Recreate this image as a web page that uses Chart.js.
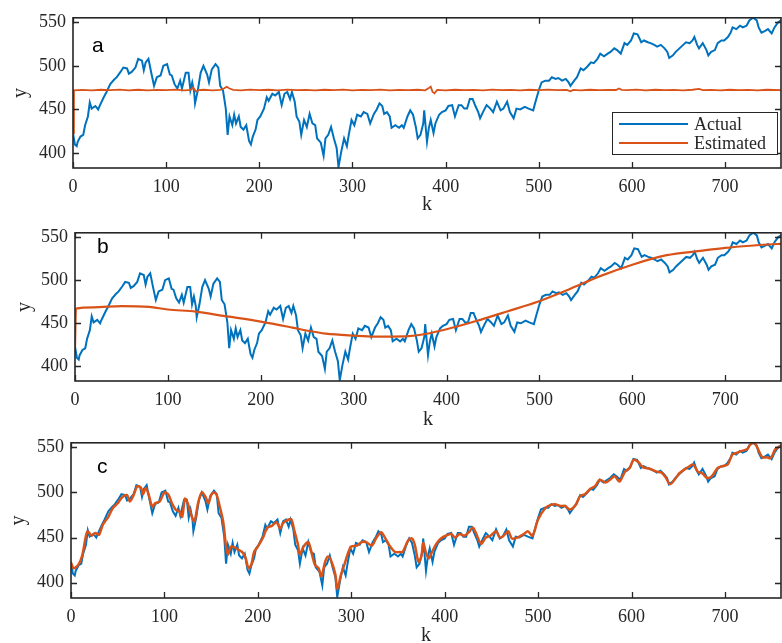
<!DOCTYPE html>
<html>
<head>
<meta charset="utf-8">
<script src="https://cdn.jsdelivr.net/npm/chart.js@4.4.1/dist/chart.umd.min.js"></script>
<style>
  html, body { margin: 0; padding: 0; background: #fff; }
  #wrap { position: relative; width: 782px; height: 643px; overflow: hidden; }
  canvas { position: absolute; left: 0; }
</style>
</head>
<body>
<div id="wrap">
  <canvas id="panelA" width="782" height="215" style="top:0px"></canvas>
  <canvas id="panelB" width="782" height="210" style="top:215px"></canvas>
  <canvas id="panelC" width="782" height="218" style="top:425px"></canvas>
</div>
<script>
// ---- data ----
const xTicks = [0, 100, 200, 300, 400, 500, 600, 700];
const yTicks = [400, 450, 500, 550];

// actual series (same in all three panels)
const kActual = [
  0, 2, 4, 5, 8, 11, 13, 16, 18, 20,
  24, 27, 29, 33, 36, 40, 44, 47, 51, 54,
  58, 60, 63, 67, 70, 74, 76, 78, 81, 84,
  87, 90, 94, 97, 101, 104, 106, 109, 112, 115,
  117, 121, 124, 126, 128, 130, 131, 134, 137, 140,
  144, 146, 149, 153, 156, 158, 161, 164, 166, 168,
  171, 173, 175, 178, 180, 183, 186, 189, 191, 193,
  196, 198, 201, 205, 208, 210, 214, 217, 221, 224,
  227, 230, 233, 235, 238, 240, 243, 245, 248, 251,
  254, 257, 260, 262, 266, 269, 271, 274, 277, 280,
  283, 285, 288, 291, 294, 296, 299, 302, 305, 309,
  312, 316, 319, 323, 326, 329, 332, 334, 337, 340,
  342, 346, 350, 353, 355, 359, 362, 365, 368, 370,
  373, 376, 377, 380, 382, 384, 387, 389, 393, 396,
  400, 403, 407, 410, 414, 417, 420, 423, 426, 429,
  432, 435, 437, 441, 444, 448, 451, 455, 459, 462,
  466, 469, 473, 476, 480, 485, 489, 494, 496, 500,
  503, 507, 511, 514, 518, 521, 525, 529, 532, 534,
  538, 541, 545, 548, 552, 556, 559, 563, 566, 570,
  574, 577, 581, 584, 588, 592, 595, 599, 602, 606,
  610, 613, 617, 620, 624, 627, 631, 635, 638, 640,
  644, 647, 651, 655, 658, 662, 665, 667, 670, 672,
  676, 680, 682, 685, 689, 692, 696, 699, 703, 706,
  708, 712, 716, 719, 723, 726, 730, 734, 736, 739,
  743, 746, 750, 753, 757, 760
];
const yActual = [
  423, 410, 408, 413, 419, 421, 432, 442, 458, 451,
  454, 450, 455, 464, 470, 479, 484, 487, 493, 498,
  497, 491, 493, 498, 508, 506, 495, 504, 508, 492,
  477, 487, 489, 500, 502, 490, 489, 479, 474, 483,
  474, 492, 492, 472, 481, 470, 457, 472, 492, 500,
  490, 481, 496, 502, 498, 477, 472, 451, 421, 442,
  432, 444, 434, 442, 430, 427, 432, 414, 410, 419,
  427, 438, 442, 451, 464, 460, 468, 466, 470, 455,
  468, 470, 462, 470, 459, 442, 436, 421, 438, 430,
  445, 434, 432, 417, 412, 397, 417, 421, 430, 417,
  406, 384, 402, 417, 408, 421, 438, 432, 444, 442,
  447, 445, 434, 445, 450, 457, 454, 445, 447, 442,
  429, 432, 429, 432, 429, 442, 449, 444, 430, 417,
  421, 434, 449, 413, 429, 438, 423, 434, 444, 447,
  449, 454, 455, 442, 455, 455, 451, 451, 462, 462,
  454, 447, 440, 449, 455, 451, 447, 459, 449, 451,
  459, 447, 440, 451, 450, 453, 451, 449, 457, 472,
  481, 483, 483, 487, 485, 486, 483, 485, 481, 477,
  483, 487, 497, 495, 499, 504, 503, 508, 514, 511,
  514, 516, 520, 518, 514, 526, 524, 529, 537, 536,
  527, 529, 527, 526, 524, 522, 524, 520, 516, 509,
  512, 516, 520, 524, 527, 526, 529, 533, 524, 520,
  526, 518, 512, 516, 518, 526, 529, 529, 533, 538,
  544, 542, 546, 544, 546, 552, 555, 552, 544, 538,
  540, 542, 537, 544, 550, 552
];

// panel a: estimate stays flat
const kEstA = [
  0, 1, 10, 20, 30, 40, 50, 60, 70, 80,
  90, 100, 110, 120, 126, 129, 132, 135, 140, 150,
  158, 162, 165, 168, 172, 180, 190, 200, 210, 220,
  230, 240, 250, 260, 270, 280, 290, 300, 310, 320,
  330, 340, 350, 360, 370, 378, 382, 384, 386, 388,
  391, 400, 410, 420, 430, 440, 450, 460, 470, 480,
  490, 500, 510, 520, 530, 534, 537, 545, 555, 565,
  575, 583, 586, 589, 595, 605, 615, 625, 635, 645,
  655, 665, 672, 676, 685, 695, 705, 715, 725, 735,
  745, 760
];
const yEstA = [
  423, 472, 472.5, 471.8, 472.6, 472.2, 472.8, 472, 472.6, 471.9,
  472.5, 472.2, 472.7, 472, 472.5, 475, 470.5, 472.3, 472.6, 472,
  472.5, 474, 476, 474, 472.4, 472, 472.7, 472.1, 472.6, 472,
  472.7, 472.2, 472.5, 471.9, 472.6, 472.1, 472.7, 472, 472.5, 472.2,
  472.8, 472, 472.5, 472.1, 472.6, 472, 474.5, 476, 470, 468.5,
  472.4, 472, 472.6, 472.1, 472.5, 472, 472.7, 472.2, 472.5, 471.9,
  472.6, 472.1, 472.7, 472.2, 472.5, 470.8, 472.4, 472, 472.6, 472.2,
  472.5, 472.3, 474, 472.5, 472.1, 472.7, 472, 472.6, 472.1, 472.5,
  472, 472.6, 473.5, 472.2, 472.5, 472, 472.6, 472.1, 472.5, 472,
  472.6, 472.2
];

// panel b: slow smooth estimate
const kEstB = [0, 1, 20, 50, 80, 100, 130, 160, 200, 234, 252, 270, 300, 323, 341,
  359, 377, 400, 430, 466, 498, 531, 566, 600, 637, 673, 700, 727, 756, 760];
const yEstB = [423, 467, 468.5, 470, 469, 466, 463.5, 458.5, 452, 445, 441, 438, 435.7, 434.6, 434.6,
  435, 437.5, 443, 452, 464, 475, 489, 505, 518, 529, 534, 537.5, 540, 542, 542.2];

// panel c: estimate tracks the actual series
const kEstC = [
  0, 3, 8, 12, 16, 18, 22, 26, 30, 34,
  40, 45, 50, 55, 60, 63, 67, 71, 75, 77,
  80, 83, 87, 90, 95, 100, 104, 108, 112, 116,
  119, 122, 125, 128, 132, 136, 140, 144, 147, 150,
  153, 156, 160, 163, 166, 168, 171, 175, 180, 184,
  187, 190, 193, 196, 200, 206, 210, 215, 220, 224,
  227, 233, 236, 239, 243, 245, 249, 254, 258, 261,
  265, 268, 272, 275, 279, 283, 285, 289, 292, 297,
  300, 306, 311, 316, 322, 327, 332, 336, 341, 347,
  352, 355, 361, 365, 368, 372, 375, 377, 380, 383,
  386, 391, 396, 401, 407, 411, 416, 421, 426, 430,
  433, 439, 444, 449, 455, 459, 463, 468, 472, 478,
  485, 489, 494, 500, 508, 513, 518, 524, 529, 534,
  540, 545, 550, 556, 561, 566, 572, 577, 582, 587,
  593, 598, 602, 607, 612, 620, 627, 632, 637, 641,
  646, 651, 656, 662, 666, 671, 676, 681, 686, 692,
  697, 703, 708, 713, 718, 724, 727, 731, 734, 740,
  745, 749, 754, 760
];
const yEstC = [
  422, 416, 420, 430, 452, 457, 452, 455, 453, 464,
  473, 483, 488, 495, 497, 490, 497, 507, 505, 498,
  505, 498, 484, 488, 490, 500, 498, 488, 481, 479,
  473, 493, 488, 477, 468, 488, 500, 495, 488, 497,
  500, 497, 481, 467, 440, 431, 440, 439, 436, 433,
  427, 416, 420, 434, 440, 451, 461, 463, 467, 460,
  466, 470, 470, 458, 442, 431, 440, 445, 431, 420,
  416, 407, 423, 429, 423, 409, 393, 409, 418, 434,
  440, 441, 445, 445, 441, 450, 456, 450, 441, 434,
  434, 434, 447, 449, 442, 423, 429, 444, 433, 427,
  433, 443, 449, 452, 454, 450, 454, 452, 456, 461,
  456, 443, 450, 452, 457, 450, 452, 457, 449, 450,
  454, 457, 452, 470, 483, 486, 487, 485, 485, 481,
  486, 496, 498, 504, 507, 514, 511, 514, 518, 512,
  523, 527, 536, 534, 528, 526, 523, 522, 516, 509,
  514, 521, 525, 529, 531, 523, 521, 516, 518, 527,
  529, 531, 542, 544, 546, 548, 553, 555, 551, 539,
  539, 538, 548, 552
];

const BLUE = '#0072BD';
const ORANGE = '#D95319';
const INK = '#262626';
const SERIF = '"Liberation Serif", "Times New Roman", serif';

function pts(ks, ys) {
  return ks.map((k, i) => ({ x: k, y: ys[i] }));
}

// box, inward ticks, axis names, panel letter, legend
const framePlugin = {
  id: 'frame',
  afterDraw(chart, args, o) {
    const { ctx, chartArea: a } = chart;
    const xs = chart.scales.x, ys = chart.scales.y;
    ctx.save();
    ctx.strokeStyle = INK;
    ctx.lineWidth = 1.3;
    ctx.beginPath();
    xTicks.forEach(v => {
      const px = Math.round(xs.getPixelForValue(v)) + 0.5;
      ctx.moveTo(px, a.bottom); ctx.lineTo(px, a.bottom - 6);
      ctx.moveTo(px, a.top); ctx.lineTo(px, a.top + 6);
    });
    yTicks.forEach(v => {
      const py = Math.round(ys.getPixelForValue(v)) + 0.5;
      ctx.moveTo(a.left, py); ctx.lineTo(a.left + 6, py);
      ctx.moveTo(a.right, py); ctx.lineTo(a.right - 6, py);
    });
    ctx.stroke();
    ctx.lineWidth = 1.6;
    ctx.strokeRect(a.left, a.top, a.right - a.left, a.bottom - a.top);

    ctx.fillStyle = INK;
    ctx.font = '20px ' + SERIF;
    ctx.textAlign = 'center';
    ctx.textBaseline = 'middle';
    ctx.fillText('k', (a.left + a.right) / 2, a.bottom + o.kGap);
    ctx.save();
    ctx.translate(o.yX, (a.top + a.bottom) / 2);
    ctx.rotate(-Math.PI / 2);
    ctx.fillText('y', 0, 0);
    ctx.restore();

    ctx.fillStyle = '#000';
    ctx.font = '21px "Liberation Sans", Arial, sans-serif';
    ctx.textAlign = 'left';
    ctx.textBaseline = 'alphabetic';
    ctx.fillText(o.letter, o.letterX, o.letterY);

    if (o.legend) {
      const L = o.legend;
      ctx.fillStyle = '#fff';
      ctx.fillRect(L.x, L.y, L.w, L.h);
      ctx.lineWidth = 1;
      ctx.strokeStyle = INK;
      ctx.strokeRect(L.x + 0.5, L.y + 0.5, L.w, L.h);
      ctx.font = '18px ' + SERIF;
      ctx.textBaseline = 'middle';
      [[BLUE, 'Actual', L.y + 12], [ORANGE, 'Estimated', L.y + 31]].forEach(([c, t, yy]) => {
        ctx.strokeStyle = c;
        ctx.lineWidth = 2;
        ctx.beginPath();
        ctx.moveTo(L.x + 7, yy); ctx.lineTo(L.x + 76, yy);
        ctx.stroke();
        ctx.fillStyle = INK;
        ctx.fillText(t, L.x + 82, yy + 1);
      });
    }
    ctx.restore();
  }
};

function makePanel(id, cfg) {
  const ctx = document.getElementById(id);
  const existing = Chart.getChart(ctx);
  if (existing) existing.destroy();

  new Chart(ctx, {
    type: 'line',
    data: {
      datasets: [
        {
          label: 'Estimated',
          data: pts(cfg.estK, cfg.estY),
          borderColor: ORANGE,
          borderWidth: cfg.estWidth,
          pointRadius: 0,
          tension: cfg.estTension,
          cubicInterpolationMode: cfg.monotone ? 'monotone' : 'default',
          order: 0
        },
        {
          label: 'Actual',
          data: pts(kActual, yActual),
          borderColor: BLUE,
          borderWidth: 2,
          pointRadius: 0,
          tension: 0,
          order: 1
        }
      ]
    },
    options: {
      responsive: false,
      animation: false,
      devicePixelRatio: 1,
      layout: { padding: { top: cfg.top, right: 1, left: 0, bottom: 0 } },
      plugins: { legend: { display: false }, tooltip: { enabled: false }, frame: cfg.frame },
      scales: {
        x: {
          type: 'linear',
          min: 0,
          max: 760,
          grid: { display: false, drawTicks: false },
          border: { display: false },
          afterBuildTicks: s => { s.ticks = xTicks.map(v => ({ value: v })); },
          afterFit: s => { s.height = cfg.bottomH; },
          ticks: { color: INK, padding: 8, maxRotation: 0, font: { family: SERIF, size: 18 } }
        },
        y: {
          min: 383,
          max: 555,
          grid: { display: false, drawTicks: false },
          border: { display: false },
          afterBuildTicks: s => { s.ticks = yTicks.map(v => ({ value: v })); },
          afterFit: s => { s.width = cfg.leftW; },
          ticks: { color: INK, padding: 7, font: { family: SERIF, size: 18 } }
        }
      }
    },
    plugins: [framePlugin]
  });
}

makePanel('panelA', {
  estK: kEstA, estY: yEstA, estWidth: 1.8, estTension: 0,
  top: 15, leftW: 73, bottomH: 47,
  frame: { kGap: 37, yX: 21, letter: 'a', letterX: 92, letterY: 52,
    legend: { x: 612, y: 112, w: 165, h: 42 } }
});
makePanel('panelB', {
  estK: kEstB, estY: yEstB, estWidth: 2.2, estTension: 0.4, monotone: true,
  top: 5, leftW: 75, bottomH: 44,
  frame: { kGap: 39, yX: 25, letter: 'b', letterX: 97, letterY: 38 }
});
makePanel('panelC', {
  estK: kEstC, estY: yEstC, estWidth: 2.5, estTension: 0.3,
  top: 12, leftW: 71, bottomH: 45,
  frame: { kGap: 38, yX: 19, letter: 'c', letterX: 97, letterY: 48 }
});
</script>
</body>
</html>
